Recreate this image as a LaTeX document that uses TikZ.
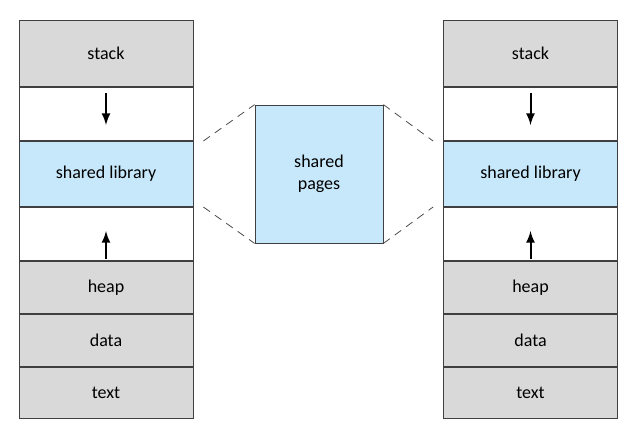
\documentclass[tikz,border=0pt]{standalone}
\usepackage{fontspec}
\setmainfont{Carlito}
\usetikzlibrary{positioning}
\definecolor{cgray}{rgb}{0.85, 0.85, 0.85}
\definecolor{cblue}{rgb}{0.78, 0.91, 0.98}
\tikzset{
  seg/.style={draw=black!75, thin, minimum width=87pt, inner sep=0pt, font=\small},
  arr/.style={-latex, line width=1pt},
  link/.style={dash pattern=on 4pt off 3pt, black!70}
}

\begin{document}
\begin{tikzpicture}[x=0.5pt, y=-0.5pt]
\useasboundingbox (0, 0) rectangle (640, 439);

% two address spaces
\foreach \side/\x in {L/106, R/530.5} {
    \node [seg, fill=cgray, minimum height=33.1pt] (stack\side) at (\x, 53.5) {stack};
    \node [seg, minimum height=26.6pt, below=0pt of stack\side] (gapa\side) {};
    \node [seg, fill=cblue, minimum height=32.6pt, below=0pt of gapa\side] (lib\side) {shared library};
    \node [seg, minimum height=26.6pt, below=0pt of lib\side] (gapb\side) {};
    \node [seg, fill=cgray, minimum height=26.1pt, below=0pt of gapb\side] (heap\side) {heap};
    \node [seg, fill=cgray, minimum height=26.1pt, below=0pt of heap\side] (data\side) {data};
    \node [seg, fill=cgray, minimum height=25.6pt, below=0pt of data\side] (text\side) {text};

    % growth arrows
    \draw [arr] ([yshift=-3pt]gapa\side.north) -- ([yshift=8pt]gapa\side.south);
    \draw [arr] ([yshift=1pt]gapb\side.south) -- ([yshift=-12pt]gapb\side.north);
}

% shared pages
\node [seg, fill=cblue, minimum width=64pt, minimum height=69pt, align=center] (pages) at (319, 174) {shared\\pages};

% mapping lines
\draw [link] ([xshift=5pt]libL.north east) -- (pages.north west);
\draw [link] ([xshift=5pt]libL.south east) -- (pages.south west);
\draw [link] (pages.north east) -- ([xshift=-5pt]libR.north west);
\draw [link] (pages.south east) -- ([xshift=-5pt]libR.south west);

\end{tikzpicture}
\end{document}
